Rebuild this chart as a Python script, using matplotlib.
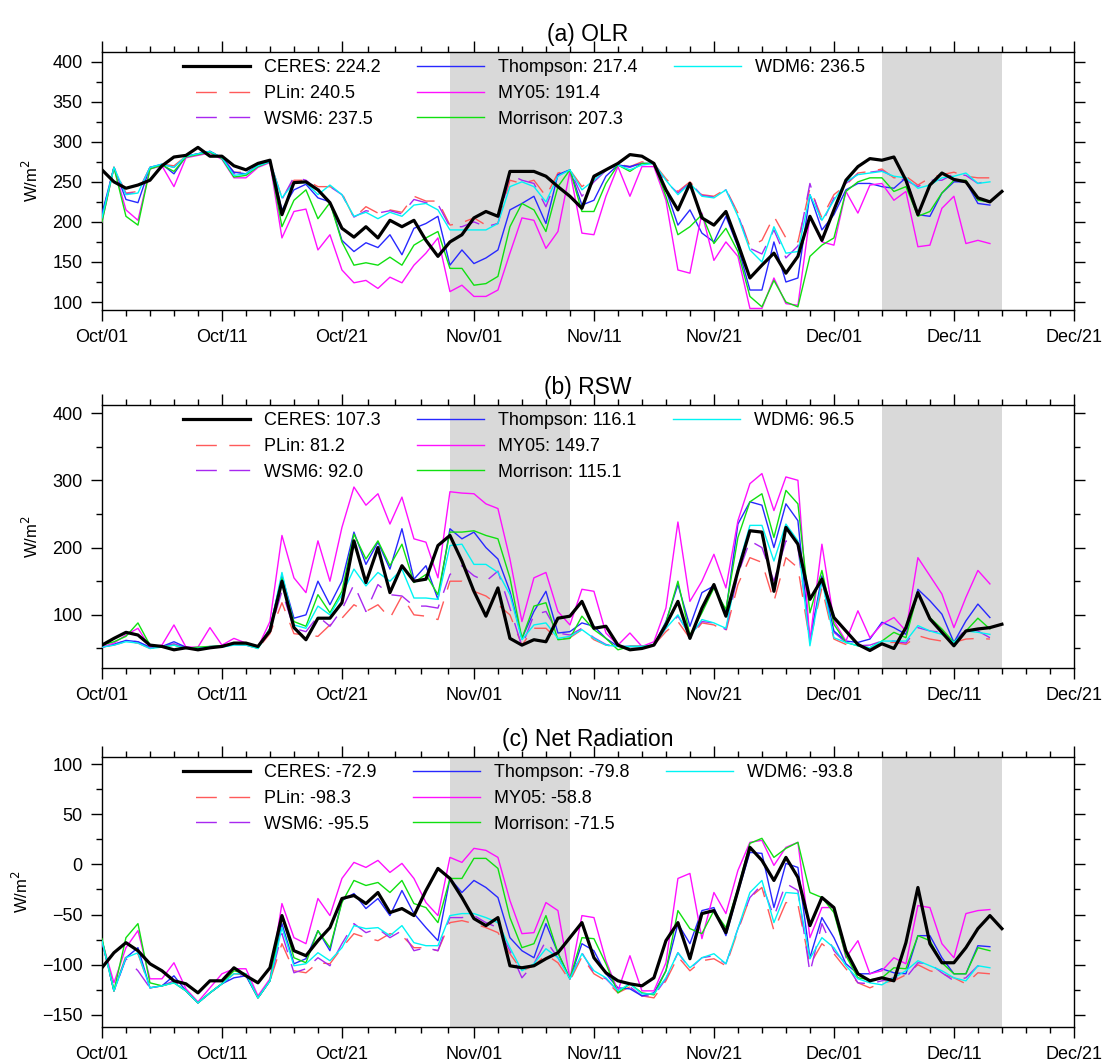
import numpy as np
import matplotlib
matplotlib.use('Agg')
import matplotlib.pyplot as plt
from matplotlib.lines import Line2D

plt.rcParams['font.family'] = ['Liberation Sans', 'DejaVu Sans']

# x axis: day offsets from Oct/01
TICK_DAYS = [0, 10, 20, 31, 41, 51, 61, 71, 81]
TICK_LABELS = ['Oct/01', 'Oct/11', 'Oct/21', 'Nov/01', 'Nov/11',
               'Nov/21', 'Dec/01', 'Dec/11', 'Dec/21']
SHADE = [(29, 39), (65, 75)]

MODELS = ['PLin', 'WSM6', 'Thompson', 'MY05', 'Morrison', 'WDM6']

# ---------------- (a) OLR ----------------
olr_ceres = [265, 250, 242, 246, 252, 270, 281, 283, 293, 282, 282, 270, 265, 273, 277,
             209, 249, 250, 240, 224, 192, 181, 194, 180, 202, 194, 202, 177, 157, 175,
             184, 205, 213, 207, 263, 263, 263, 257, 244, 232, 217, 257, 265, 273, 284,
             282, 273, 240, 215, 248, 205, 196, 213, 173, 130, 146, 161, 136, 157, 207,
             177, 215, 252, 269, 279, 277, 281, 252, 209, 246, 261, 253, 250, 230, 225, 238]
olr_plin = [208, 268, 236, 238, 268, 272, 270, 282, 285, 288, 281, 262, 262, 270, 276,
            230, 252, 252, 244, 244, 236, 205, 219, 211, 215, 212, 232, 226, 226, 196,
            199, 205, 196, 198, 252, 248, 252, 232, 261, 265, 244, 255, 265, 272, 269,
            275, 273, 254, 238, 250, 234, 232, 241, 211, 169, 177, 207, 180, 175, 242,
            205, 234, 246, 261, 263, 266, 255, 257, 246, 255, 259, 262, 257, 255, 255]
olr_wsm6 = [206, 268, 235, 237, 268, 272, 268, 282, 285, 288, 281, 260, 261, 270, 276,
            228, 256, 252, 240, 244, 234, 206, 214, 211, 214, 210, 228, 224, 222, 194,
            194, 200, 194, 198, 259, 252, 248, 219, 258, 265, 232, 250, 264, 271, 268,
            274, 273, 250, 236, 249, 233, 231, 240, 209, 167, 160, 190, 155, 170, 248,
            198, 230, 248, 260, 262, 264, 256, 252, 244, 252, 252, 260, 258, 248, 252]
olr_thompson = [210, 268, 228, 224, 268, 272, 260, 282, 285, 288, 280, 262, 260, 270, 275,
                215, 240, 247, 230, 225, 177, 163, 174, 168, 184, 159, 192, 198, 207, 146,
                165, 148, 155, 165, 215, 223, 232, 198, 259, 265, 221, 227, 257, 271, 269,
                273, 273, 240, 196, 215, 186, 175, 207, 169, 115, 115, 175, 125, 130, 234,
                190, 209, 240, 248, 248, 244, 242, 255, 209, 207, 236, 250, 250, 223, 221]
olr_my05 = [200, 268, 215, 202, 266, 270, 244, 280, 283, 286, 278, 255, 255, 268, 274,
            180, 213, 216, 165, 184, 140, 124, 127, 117, 131, 124, 146, 161, 180, 113,
            121, 107, 107, 115, 161, 205, 202, 167, 188, 263, 186, 184, 232, 269, 232,
            269, 269, 227, 140, 136, 211, 152, 175, 157, 92, 92, 130, 98, 96, 207,
            175, 171, 238, 211, 246, 248, 227, 238, 169, 171, 217, 232, 173, 177, 173]
olr_morrison = [200, 268, 207, 196, 266, 271, 263, 281, 284, 287, 279, 256, 258, 269, 275,
                194, 227, 240, 204, 224, 175, 146, 149, 146, 156, 146, 171, 180, 188, 142,
                142, 121, 123, 132, 194, 223, 215, 188, 244, 265, 213, 213, 248, 271, 263,
                273, 273, 232, 184, 194, 209, 173, 192, 163, 107, 94, 127, 100, 94, 157,
                171, 180, 238, 250, 255, 255, 238, 244, 207, 213, 236, 252, 252, 227, 225]
olr_wdm6 = [205, 268, 234, 236, 268, 272, 268, 282, 285, 288, 280, 258, 260, 270, 275,
            230, 249, 249, 234, 246, 234, 207, 212, 204, 212, 207, 221, 223, 215, 190,
            190, 190, 190, 198, 244, 250, 244, 225, 257, 265, 240, 252, 265, 271, 265,
            271, 273, 252, 234, 248, 232, 230, 240, 207, 165, 150, 194, 161, 163, 234,
            202, 227, 250, 259, 261, 263, 257, 255, 242, 246, 255, 257, 261, 248, 250]
olr_means = ['224.2', '240.5', '237.5', '217.4', '191.4', '207.3', '236.5']

# ---------------- (b) RSW ----------------
rsw_ceres = [55, 65, 74, 70, 55, 53, 48, 51, 48, 51, 53, 58, 58, 53, 76,
             150, 81, 63, 95, 95, 118, 210, 148, 200, 133, 173, 150, 153, 203, 218,
             180, 135, 98, 140, 65, 55, 63, 60, 95, 98, 120, 80, 83, 55, 48,
             50, 55, 85, 120, 65, 110, 145, 98, 165, 225, 223, 135, 230, 205, 123,
             153, 96, 76, 56, 47, 57, 50, 81, 133, 94, 74, 54, 76, 79, 81, 86]
rsw_plin = [52, 55, 60, 58, 50, 52, 56, 50, 50, 52, 53, 56, 55, 50, 72,
            118, 72, 70, 68, 85, 95, 115, 105, 115, 95, 128, 100, 98, 93, 150,
            150, 135, 128, 115, 100, 55, 80, 80, 63, 66, 78, 63, 55, 52, 53,
            53, 55, 75, 90, 65, 88, 85, 75, 145, 185, 178, 120, 185, 170, 60,
            140, 64, 56, 54, 50, 59, 59, 56, 69, 64, 61, 59, 64, 65, 64]
rsw_wsm6 = [52, 56, 62, 60, 51, 53, 57, 51, 50, 52, 53, 56, 55, 51, 75,
            135, 80, 75, 98, 83, 108, 145, 105, 145, 130, 128, 113, 113, 110, 160,
            173, 158, 150, 165, 110, 53, 100, 105, 73, 70, 80, 66, 56, 52, 53,
            53, 55, 80, 98, 70, 90, 88, 78, 160, 210, 200, 150, 210, 200, 64,
            150, 74, 59, 54, 55, 61, 61, 58, 81, 76, 74, 59, 79, 76, 66]
rsw_thompson = [52, 56, 62, 60, 52, 53, 60, 52, 50, 53, 54, 57, 56, 52, 80,
                158, 95, 100, 150, 115, 150, 223, 175, 208, 168, 228, 153, 173, 123, 228,
                213, 223, 200, 183, 135, 65, 105, 135, 73, 75, 88, 83, 65, 53, 53,
                53, 55, 90, 145, 83, 133, 143, 105, 235, 268, 263, 200, 265, 240, 61,
                158, 76, 61, 59, 64, 89, 81, 71, 138, 121, 101, 59, 91, 116, 96]
rsw_my05 = [52, 58, 70, 80, 52, 55, 85, 52, 52, 81, 55, 65, 58, 52, 90,
            218, 155, 133, 210, 150, 230, 290, 263, 280, 235, 275, 213, 208, 155, 283,
            281, 280, 265, 258, 183, 90, 155, 163, 105, 85, 138, 135, 73, 55, 73,
            53, 60, 110, 238, 120, 150, 190, 140, 240, 295, 310, 255, 305, 300, 61,
            205, 91, 61, 106, 66, 86, 96, 76, 185, 158, 131, 81, 126, 166, 146]
rsw_morrison = [55, 60, 68, 88, 55, 52, 55, 50, 52, 53, 54, 57, 56, 50, 80,
                155, 90, 83, 130, 103, 135, 220, 183, 210, 173, 205, 148, 160, 130, 223,
                223, 225, 218, 213, 155, 65, 113, 118, 63, 65, 98, 78, 65, 48, 53,
                53, 55, 88, 150, 70, 103, 140, 108, 215, 268, 280, 215, 285, 265, 103,
                166, 86, 59, 54, 51, 61, 74, 66, 133, 96, 79, 59, 76, 95, 79]
rsw_wdm6 = [52, 55, 60, 58, 50, 52, 55, 50, 50, 52, 52, 55, 55, 50, 78,
            163, 85, 80, 113, 100, 130, 168, 143, 163, 150, 168, 125, 125, 123, 203,
            205, 175, 175, 163, 130, 63, 85, 88, 65, 68, 78, 65, 55, 53, 53,
            53, 55, 80, 100, 68, 93, 88, 80, 170, 233, 233, 180, 235, 210, 54,
            151, 66, 59, 54, 51, 61, 61, 61, 84, 76, 71, 59, 76, 74, 71]
rsw_means = ['107.3', '81.2', '92.0', '116.1', '149.7', '115.1', '96.5']

# ---------------- (c) Net Radiation ----------------
net_ceres = [-103, -88, -78, -86, -99, -106, -116, -119, -128, -116, -116, -103, -111, -118, -103,
             -51, -86, -91, -76, -63, -34, -31, -39, -28, -48, -44, -51, -26, -4, -14,
             -33, -54, -61, -53, -101, -103, -101, -94, -88, -73, -58, -93, -108, -116, -119,
             -121, -113, -76, -58, -94, -49, -46, -68, -26, 17, 4, -16, 7, -13, -61,
             -33, -43, -86, -109, -116, -113, -116, -78, -23, -79, -98, -98, -83, -64, -51, -64]
net_plin = [-76, -126, -91, -89, -123, -121, -118, -126, -138, -128, -119, -109, -110, -133, -116,
            -79, -106, -108, -98, -99, -83, -69, -73, -76, -69, -71, -83, -83, -86, -58,
            -56, -59, -63, -68, -89, -106, -101, -90, -98, -116, -92, -109, -116, -128, -122,
            -131, -133, -116, -92, -106, -96, -94, -101, -66, -33, -23, -66, -38, -40, -100,
            -79, -89, -104, -118, -123, -118, -116, -110, -100, -106, -109, -113, -119, -108, -109]
net_wsm6 = [-76, -126, -94, -106, -123, -121, -116, -126, -138, -128, -119, -110, -110, -133, -116,
            -69, -108, -104, -93, -101, -79, -59, -68, -64, -73, -66, -86, -83, -86, -53,
            -53, -51, -58, -63, -86, -113, -99, -76, -93, -114, -88, -108, -114, -126, -122,
            -131, -131, -114, -88, -104, -93, -91, -99, -64, -33, -20, -52, -19, -26, -108,
            -59, -86, -99, -118, -119, -116, -113, -113, -98, -99, -108, -116, -113, -101, -108]
net_thompson = [-76, -126, -93, -83, -123, -121, -111, -126, -138, -128, -119, -113, -111, -133, -116,
                -59, -99, -94, -66, -86, -36, -29, -44, -34, -51, -26, -49, -63, -76, -14,
                -28, -16, -23, -33, -73, -86, -93, -59, -88, -114, -79, -86, -109, -123, -124,
                -131, -128, -106, -59, -79, -46, -43, -71, -28, 12, 11, -43, 1, -3, -93,
                -53, -73, -99, -109, -109, -104, -108, -109, -71, -71, -93, -109, -109, -81, -82]
net_my05 = [-76, -118, -83, -66, -114, -114, -98, -124, -137, -123, -109, -104, -104, -131, -114,
            -39, -73, -79, -34, -51, -14, 2, -3, 4, -8, 1, -14, -38, -51, 7,
            2, 16, 14, 7, -36, -69, -68, -38, -46, -114, -51, -53, -96, -126, -91,
            -126, -126, -98, -14, -9, -74, -28, -49, -6, 22, 24, -1, 17, 22, -73,
            -43, -43, -93, -76, -109, -106, -93, -99, -41, -43, -79, -93, -49, -46, -45]
net_morrison = [-74, -126, -73, -59, -118, -121, -118, -126, -138, -128, -119, -106, -109, -133, -116,
                -51, -93, -98, -66, -83, -38, -16, -21, -18, -28, -16, -39, -43, -58, -14,
                -14, 6, 6, -4, -53, -83, -79, -51, -88, -114, -73, -74, -99, -128, -119,
                -128, -130, -106, -46, -64, -69, -46, -63, -24, 21, 26, 7, 16, 22, -28,
                -33, -48, -91, -113, -115, -113, -103, -104, -71, -76, -98, -109, -109, -83, -86]
net_wdm6 = [-76, -126, -93, -88, -123, -121, -118, -126, -138, -128, -119, -109, -109, -133, -116,
            -63, -101, -99, -88, -96, -83, -61, -64, -63, -71, -61, -78, -81, -81, -51,
            -49, -49, -53, -58, -83, -106, -99, -84, -93, -114, -89, -106, -113, -126, -119,
            -129, -129, -113, -88, -103, -93, -89, -99, -64, -28, -16, -58, -28, -29, -94,
            -73, -83, -101, -114, -118, -120, -113, -106, -96, -101, -106, -113, -116, -101, -103]
net_means = ['-72.9', '-98.3', '-95.5', '-79.8', '-58.8', '-71.5', '-93.8']

STYLE = {
    'PLin': dict(color='#ff5a5a', dashes=(15, 9)),
    'WSM6': dict(color='#a828f0', dashes=(15, 9)),
    'Thompson': dict(color='#2828ff'),
    'MY05': dict(color='#ff10ff'),
    'Morrison': dict(color='#10e010'),
    'WDM6': dict(color='#00f4f4'),
}

panels = [
    ('(a) OLR', olr_ceres, [olr_plin, olr_wsm6, olr_thompson, olr_my05, olr_morrison, olr_wdm6],
     olr_means, (90, 412), [100, 150, 200, 250, 300, 350, 400], 25),
    ('(b) RSW', rsw_ceres, [rsw_plin, rsw_wsm6, rsw_thompson, rsw_my05, rsw_morrison, rsw_wdm6],
     rsw_means, (21, 412), [100, 200, 300, 400], 50),
    ('(c) Net Radiation', net_ceres, [net_plin, net_wsm6, net_thompson, net_my05, net_morrison, net_wdm6],
     net_means, (-162, 107), [-150, -100, -50, 0, 50, 100], 25),
]

fig = plt.figure(figsize=(11.07, 10.64), dpi=100)
boxes = [(0.0921, 0.7086, 0.878, 0.2425),
         (0.0921, 0.3722, 0.878, 0.2472),
         (0.0921, 0.0348, 0.878, 0.2537)]

# minor x ticks: 4 per major interval
minor_x = []
for a, b in zip(TICK_DAYS[:-1], TICK_DAYS[1:]):
    minor_x += [a + k * (b - a) / 5 for k in range(1, 5)]

for box, (title, ceres, models, means, ylim, yticks, yminor) in zip(boxes, panels):
    ax = fig.add_axes(box)
    for s0, s1 in SHADE:
        ax.axvspan(s0, s1, color='#d9d9d9', lw=0, zorder=0)

    ax.plot(np.arange(len(ceres)), ceres, color='black', lw=2.3, zorder=5)
    for name, vals in zip(MODELS, models):
        st = STYLE[name]
        kw = dict(color=st['color'], lw=1.0, zorder=3)
        if 'dashes' in st:
            kw['dashes'] = st['dashes']
        ax.plot(np.arange(len(vals)), vals, **kw)

    labels = ['CERES: ' + means[0]] + [f'{n}: {m}' for n, m in zip(MODELS, means[1:])]
    leg_handles = [Line2D([], [], color='black', lw=2.3)]
    for name in MODELS:
        st = STYLE[name]
        if 'dashes' in st:
            # start on the gap so the handle shows two full dashes
            leg_handles.append(Line2D([], [], color=st['color'], lw=1.0,
                                      linestyle=(st['dashes'][0], st['dashes'])))
        else:
            leg_handles.append(Line2D([], [], color=st['color'], lw=1.0))
    # two empty slots so the columns hold 3, 3 and 1 entries
    leg_handles += [Line2D([], [], alpha=0), Line2D([], [], alpha=0)]
    labels += ['', '']
    ax.legend(leg_handles, labels, ncol=3, loc='upper left', bbox_to_anchor=(0.076, 1.0),
              frameon=False, fontsize=13, handlelength=3.7, handletextpad=0.8,
              columnspacing=2.0, labelspacing=0.48, borderaxespad=0.0, borderpad=0.4)

    ax.set_xlim(0, 81)
    ax.set_ylim(*ylim)
    ax.set_xticks(TICK_DAYS)
    ax.set_xticklabels(TICK_LABELS)
    ax.set_xticks(minor_x, minor=True)
    ax.set_yticks(yticks)
    ymin_ticks = np.arange(yticks[0] - yminor, ylim[1], yminor)
    ax.set_yticks(ymin_ticks[ymin_ticks >= ylim[0]], minor=True)
    ax.tick_params(which='both', direction='out', top=True, right=True,
                   labelsize=13, width=1.0, pad=6)
    ax.tick_params(which='major', length=8)
    ax.tick_params(which='minor', length=4)
    for sp in ax.spines.values():
        sp.set_linewidth(1.0)
    ax.set_ylabel('W/m$^2$', fontsize=12, labelpad=8)
    ax.set_title(title, fontsize=16.5, pad=8)

fig.savefig('out.png', dpi=100)
